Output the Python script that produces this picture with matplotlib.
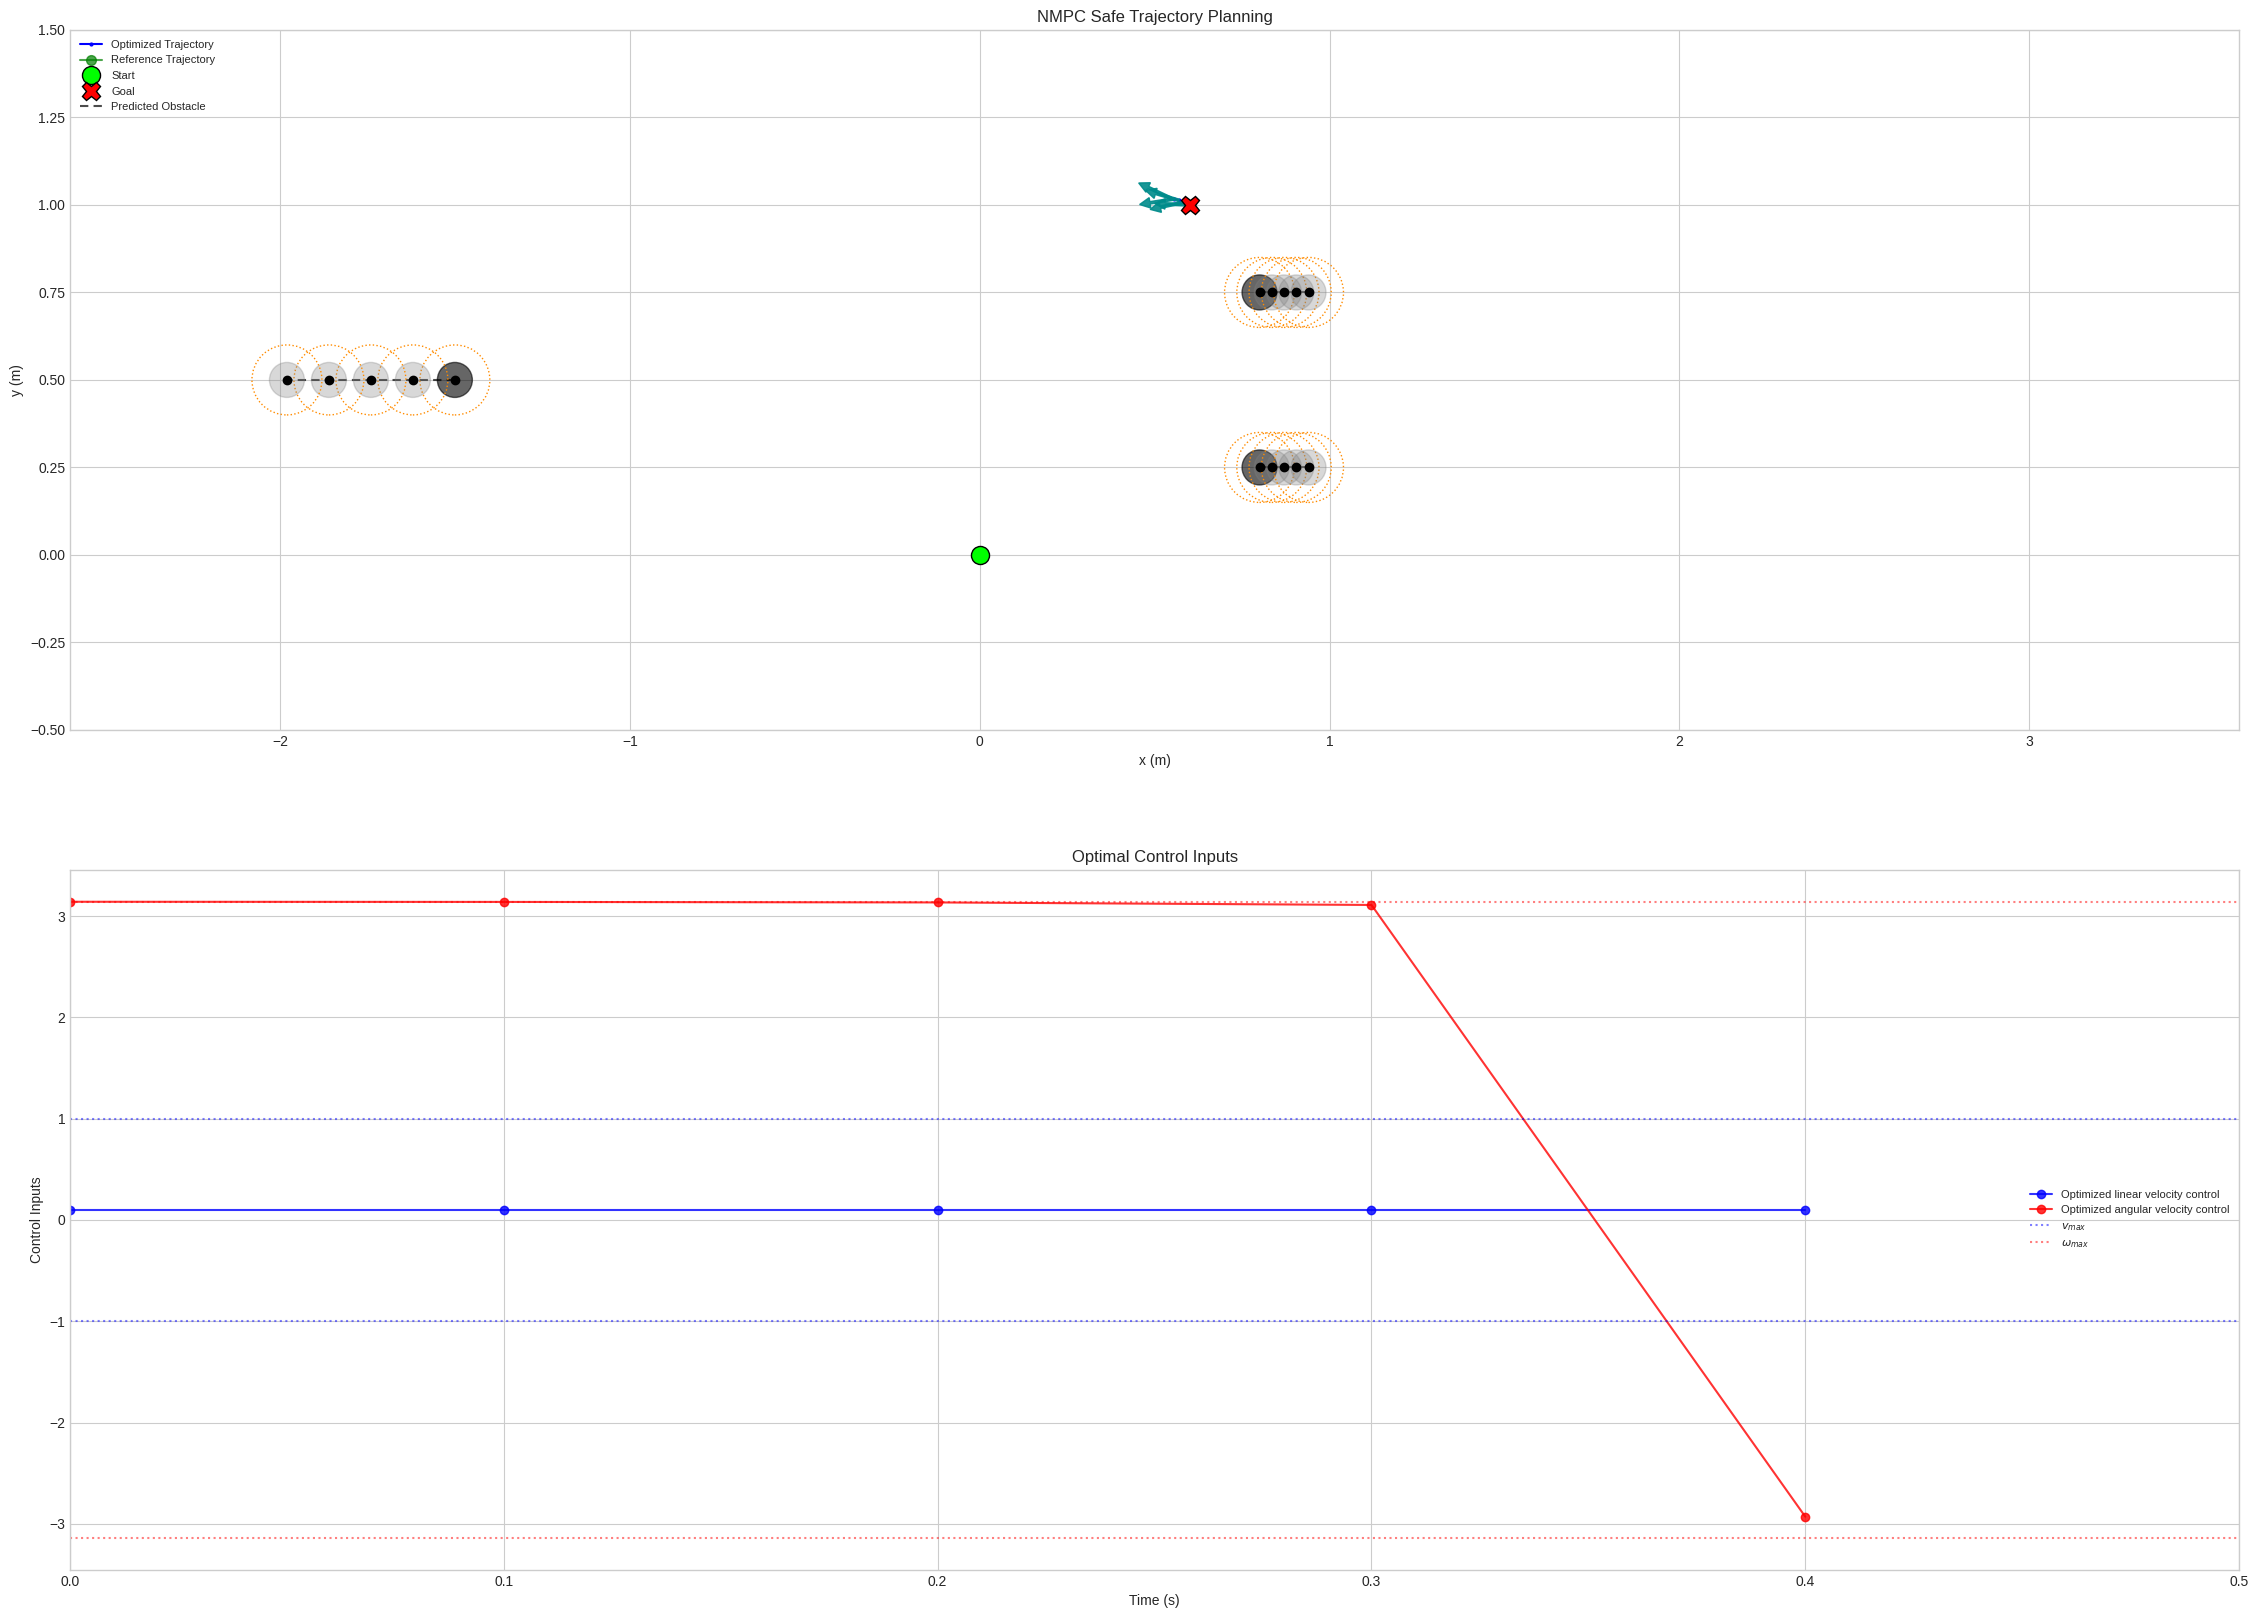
import numpy as np
import matplotlib
matplotlib.use("Agg")
import matplotlib.pyplot as plt
from matplotlib.patches import Circle

plt.style.use("seaborn-v0_8-whitegrid")
plt.rcParams["font.family"] = ["Liberation Sans", "DejaVu Sans"]

# --- trajectory data ---
start = (0.0, 0.0)
goal = (0.6, 1.0)
traj_x = [0.600, 0.585, 0.570, 0.556, 0.545]
traj_y = [1.000, 1.008, 1.013, 1.017, 1.020]
ref_x = [0.6]
ref_y = [1.0]
# heading (rad) shown as arrows along the optimized path
traj_theta = [3.10, 3.35, 2.85, 3.30, 2.70]

# --- obstacles: current position first, then predictions ---
obs1_x = [-1.50, -1.62, -1.74, -1.86, -1.98]
obs1_y = [0.50, 0.50, 0.50, 0.50, 0.50]
obs2_x = [0.80, 0.835, 0.87, 0.905, 0.94]
obs2_y = [0.75, 0.75, 0.75, 0.75, 0.75]
obs3_x = [0.80, 0.835, 0.87, 0.905, 0.94]
obs3_y = [0.25, 0.25, 0.25, 0.25, 0.25]
obs_radius = 0.05
safe_radius = 0.10

# --- control inputs ---
t = [0.0, 0.1, 0.2, 0.3, 0.4]
v_ctrl = [0.1, 0.1, 0.1, 0.1, 0.1]
w_ctrl = [3.1416, 3.14, 3.135, 3.11, -2.93]
v_max = 1.0
w_max = np.pi

fig, (ax1, ax2) = plt.subplots(2, 1, figsize=(22.59, 16.18), dpi=100)
fig.subplots_adjust(left=0.031, right=0.9912, top=0.9815, bottom=0.0297, hspace=0.2)

# top: trajectory planning
ax1.plot(traj_x, traj_y, '.-', color='blue', lw=1.5, markersize=4, label='Optimized Trajectory', zorder=3)
ax1.plot(ref_x, ref_y, 'o-', color='green', alpha=0.7, lw=1.5, markersize=7, label='Reference Trajectory', zorder=2)
for x, y, th in zip(traj_x, traj_y, traj_theta):
    ax1.arrow(x, y, 0.07 * np.cos(th), 0.07 * np.sin(th), width=0.007,
              head_width=0.03, head_length=0.03, color='darkcyan', alpha=0.9, zorder=3)
ax1.plot(*start, 'o', color='lime', markeredgecolor='black', markersize=13, label='Start', zorder=5)
ax1.plot(*goal, 'X', color='red', markeredgecolor='black', markersize=13, label='Goal', zorder=5)

first = True
for ox, oy in [(obs1_x, obs1_y), (obs2_x, obs2_y), (obs3_x, obs3_y)]:
    ax1.plot(ox, oy, '--', color='black', alpha=0.7, lw=1.5, dashes=(4, 2.5),
             label='Predicted Obstacle' if first else None, zorder=2)
    first = False
    for i, (cx, cy) in enumerate(zip(ox, oy)):
        if i == 0:
            ax1.add_patch(Circle((cx, cy), obs_radius, facecolor='black', edgecolor='black', alpha=0.6, zorder=2))
        else:
            ax1.add_patch(Circle((cx, cy), obs_radius, facecolor='gray', edgecolor='gray', alpha=0.3, zorder=2))
        ax1.add_patch(Circle((cx, cy), safe_radius, fill=False, edgecolor='darkorange',
                             linestyle=':', lw=1.0, zorder=2))
    ax1.plot(ox, oy, 'o', color='black', markersize=6, zorder=4)

ax1.set_xlim(-2.6, 3.6)
ax1.set_ylim(-0.5, 1.5)
ax1.set_xticks([-2, -1, 0, 1, 2, 3])
ax1.set_yticks(np.arange(-0.5, 1.51, 0.25))
ax1.set_title('NMPC Safe Trajectory Planning', fontsize=12)
ax1.set_xlabel('x (m)')
ax1.set_ylabel('y (m)')
ax1.legend(loc='upper left', fontsize=8)

# bottom: control inputs
ax2.plot(t, v_ctrl, 'o-', color='blue', alpha=0.8, lw=1.5, markersize=6, label='Optimized linear velocity control')
ax2.plot(t, w_ctrl, 'o-', color='red', alpha=0.8, lw=1.5, markersize=6, label='Optimized angular velocity control')
ax2.axhline(v_max, color='blue', linestyle=':', alpha=0.5, label=r'$v_{max}$')
ax2.axhline(-v_max, color='blue', linestyle=':', alpha=0.5)
ax2.axhline(w_max, color='red', linestyle=':', alpha=0.5, label=r'$\omega_{max}$')
ax2.axhline(-w_max, color='red', linestyle=':', alpha=0.5)
ax2.set_xlim(0, 0.5)
ax2.set_ylim(-1.1 * w_max, 1.1 * w_max)
ax2.set_title('Optimal Control Inputs', fontsize=12)
ax2.set_xlabel('Time (s)')
ax2.set_ylabel('Control Inputs')
ax2.legend(loc='center right', fontsize=8)

plt.savefig('out.png', dpi=100)
plt.close()
